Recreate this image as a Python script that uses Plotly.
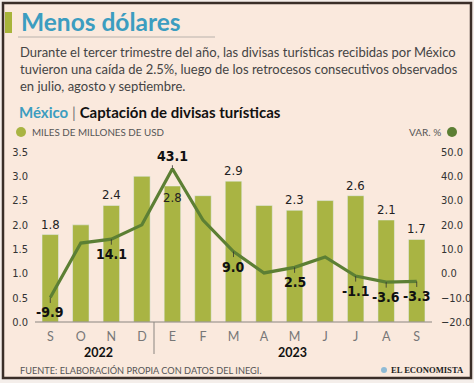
import plotly.graph_objects as go

months = ["S", "O", "N", "D", "E", "F", "M", "A", "M", "J", "J", "A", "S"]
usd_bn = [1.8, 2.0, 2.4, 3.0, 2.8, 2.6, 2.9, 2.4, 2.3, 2.5, 2.6, 2.1, 1.7]
bar_labels = ["1.8", "", "2.4", "", "2.8", "", "2.9", "", "2.3", "", "2.6", "2.1", "1.7"]
var_pct = [-9.9, 12.5, 14.1, 20.0, 43.1, 22.0, 9.0, 0.2, 2.5, 6.8, -1.1, -3.6, -3.3]
var_labels = ["-9.9", "", "14.1", "", "43.1", "", "9.0", "", "2.5", "", "-1.1", "-3.6", "-3.3"]
left_ticks = [0.0, 0.5, 1.0, 1.5, 2.0, 2.5, 3.0, 3.5]
right_ticks = [-20, -10, 0, 10, 20, 30, 40, 50]

W, H = 474, 383
BAR = "#A9B443"
LINE = "#5C7F34"
BG = "#FAE9DD"
GRAY = "#555555"
NUM_FONT = "DejaVu Sans Condensed, Liberation Sans Narrow, Roboto"
TXT_FONT = "Lato, Noto Sans, sans-serif"

def px(x):
    return x / W

def py(y):
    return 1 - y / H

xs = list(range(len(months)))

fig = go.Figure()
fig.add_trace(go.Bar(
    x=xs, y=usd_bn, marker_color=BAR, width=0.54,
    yaxis="y", showlegend=False, hoverinfo="skip",
))
fig.add_trace(go.Scatter(
    x=xs, y=var_pct, mode="lines", line=dict(color=LINE, width=3.2),
    yaxis="y2", showlegend=False, hoverinfo="skip",
))

# bar value labels
for i, (v, lab) in enumerate(zip(usd_bn, bar_labels)):
    if not lab:
        continue
    inside = i == 4
    fig.add_annotation(
        x=i, y=v, xref="x", yref="y", text=lab, showarrow=False,
        yanchor="top" if inside else "bottom", yshift=-2 if inside else 1,
        font=dict(family=NUM_FONT, size=13, color="#222222"),
    )

# variation labels
for i, (v, lab) in enumerate(zip(var_pct, var_labels)):
    if not lab:
        continue
    ay = -13 if v > 40 else 15
    fig.add_annotation(
        x=i, y=v, xref="x", yref="y2", text="<b>" + lab + "</b>",
        showarrow=True, arrowhead=0, arrowwidth=0.8, arrowcolor="#333333",
        ax=0, ay=ay, font=dict(family=NUM_FONT, size=14, color="#111111"),
        yanchor="middle",
    )

shapes = [
    dict(type="rect", xref="paper", yref="paper", x0=px(3), x1=px(471), y0=py(378), y1=py(3),
         fillcolor=BG, line=dict(color="#3A2E28", width=2.5), layer="below"),
    dict(type="rect", xref="paper", yref="paper", x0=px(5), x1=px(12), y0=py(33), y1=py(12),
         fillcolor="#A8B43A", line=dict(width=0), layer="below"),
    dict(type="line", xref="paper", yref="paper", x0=px(18), x1=px(215), y0=py(37), y1=py(37),
         line=dict(color="#B9B2AC", width=1)),
    dict(type="line", xref="paper", yref="paper", x0=px(35), x1=px(432), y0=py(322), y1=py(322),
         line=dict(color="#8A8580", width=1)),
    dict(type="line", xref="paper", yref="paper", x0=px(154), x1=px(154), y0=py(322), y1=py(354),
         line=dict(color="#8A8580", width=1)),
    dict(type="circle", xref="paper", yref="paper", x0=px(16), x1=px(26), y0=py(137), y1=py(127),
         fillcolor=BAR, line=dict(width=0)),
    dict(type="circle", xref="paper", yref="paper", x0=px(447), x1=px(457), y0=py(137), y1=py(127),
         fillcolor=LINE, line=dict(width=0)),
    dict(type="circle", xref="paper", yref="paper", x0=px(381), x1=px(387), y0=py(373), y1=py(367),
         fillcolor="#8FBBD6", line=dict(width=0)),
]

anns = [
    dict(x=px(19), y=py(22), text="<b>Menos dólares</b>", xanchor="left", yanchor="middle",
         font=dict(family=TXT_FONT, size=24.5, color="#3C9DC0")),
    dict(x=px(18), y=py(69), text="Durante el tercer trimestre del año, las divisas turísticas recibidas por México<br>"
         "tuvieron una caída de 2.5%, luego de los retrocesos consecutivos observados<br>"
         "en julio, agosto y septiembre.", xanchor="left", yanchor="middle", align="left",
         font=dict(family=TXT_FONT, size=13, color="#444444")),
    dict(x=px(17), y=py(112), text="<span style='color:#3C9DC0'><b>México</b></span>"
         "<span style='color:#777777'> | </span><b>Captación de divisas turísticas</b>",
         xanchor="left", yanchor="middle", font=dict(family=TXT_FONT, size=15, color="#111111")),
    dict(x=px(30), y=py(132), text="MILES DE MILLONES DE USD", xanchor="left", yanchor="middle",
         font=dict(family=TXT_FONT, size=9.8, color=GRAY)),
    dict(x=px(443), y=py(132), text="VAR. %", xanchor="right", yanchor="middle",
         font=dict(family=TXT_FONT, size=10, color=GRAY)),
    dict(x=px(98), y=py(352), text="<b>2022</b>", xanchor="center", yanchor="middle",
         font=dict(family=TXT_FONT, size=12.5, color="#111111")),
    dict(x=px(292), y=py(352), text="<b>2023</b>", xanchor="center", yanchor="middle",
         font=dict(family=TXT_FONT, size=12.5, color="#111111")),
    dict(x=px(18), y=py(370), text="FUENTE: ELABORACIÓN PROPIA CON DATOS DEL INEGI.", xanchor="left",
         yanchor="middle", font=dict(family=TXT_FONT, size=9.2, color=GRAY)),
    dict(x=px(389), y=py(370), text="<b>EL ECONOMISTA</b>", xanchor="left", yanchor="middle",
         font=dict(family="Liberation Serif, DejaVu Serif, serif", size=8.6, color="#222222")),
]
for a in anns:
    a.update(xref="paper", yref="paper", showarrow=False)
    fig.add_annotation(**a)

fig.update_layout(
    width=W, height=H, margin=dict(l=0, r=0, t=0, b=0, pad=0, autoexpand=False),
    paper_bgcolor="#F4EEEA", plot_bgcolor="rgba(0,0,0,0)",
    shapes=shapes, hovermode=False,
    xaxis=dict(domain=[px(35), px(432)], range=[-0.5, 12.5], tickvals=xs, ticktext=months,
               showgrid=False, zeroline=False, showline=False, ticks="", automargin=False,
               tickfont=dict(family=TXT_FONT, size=12.5, color="#777777"), ticklabelstandoff=5),
    yaxis=dict(domain=[py(322), py(152)], range=[0, 3.5], tickvals=left_ticks, automargin=False,
               tickformat=".1f", showgrid=False, zeroline=False, showline=False,
               tickfont=dict(family=NUM_FONT, size=11, color="#333333"), ticklabelstandoff=6),
    yaxis2=dict(overlaying="y", side="right", range=[-20, 50], tickvals=right_ticks, automargin=False,
                tickformat=".1f", showgrid=False, zeroline=False, showline=False,
                tickfont=dict(family=NUM_FONT, size=11, color="#333333"), ticklabelstandoff=8),
)

fig.write_html("out.html", config={"displayModeBar": False},
               post_script="document.body.style.margin='0px';")
